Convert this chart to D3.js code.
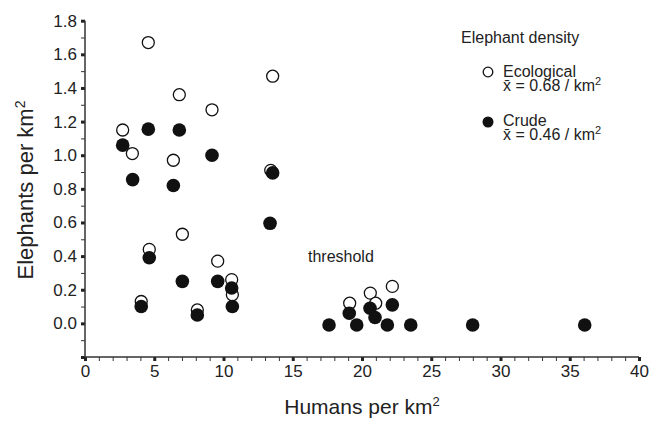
<!DOCTYPE html>
<html>
<head>
<meta charset="utf-8">
<script src="https://cdn.jsdelivr.net/npm/d3@7"></script>
<style>
  body { margin: 0; background: #fff; }
  text { font-family: "Liberation Sans", Arial, sans-serif; fill: #222; }
</style>
</head>
<body>
<script>
// Ecological density (open circles)
var humansEco = [4.57, 6.81, 9.17, 13.55, 2.72, 3.42, 6.38, 13.41, 7.03, 4.64, 9.58, 10.59, 10.64, 4.06, 8.11, 19.11, 20.6, 20.99, 22.19];
var elephantsEco = [1.67, 1.36, 1.27, 1.47, 1.15, 1.01, 0.97, 0.91, 0.53, 0.44, 0.37, 0.26, 0.17, 0.13, 0.08, 0.12, 0.18, 0.12, 0.22];

// Crude density (filled circles)
var humansCrude = [2.72, 4.57, 6.81, 9.17, 3.44, 6.38, 13.55, 13.36, 4.64, 7.03, 9.58, 10.59, 10.64, 4.06, 8.11, 17.62, 19.08, 19.62, 20.58, 20.94, 21.83, 22.19, 23.52, 27.99, 36.08];
var elephantsCrude = [1.06, 1.155, 1.15, 1.0, 0.855, 0.82, 0.895, 0.595, 0.39, 0.25, 0.25, 0.21, 0.10, 0.10, 0.05, -0.01, 0.06, -0.01, 0.09, 0.035, -0.01, 0.11, -0.01, -0.01, -0.01];

var xTicks = [0, 5, 10, 15, 20, 25, 30, 35, 40];
var yTicks = [0, 0.2, 0.4, 0.6, 0.8, 1.0, 1.2, 1.4, 1.6, 1.8];

let chart = function() {
    let w = 663;
    let h = 423;

    let svg = d3.select("body")
        .append("svg")
        .attr("width", w)
        .attr("height", h);

    let x = d3.scaleLinear().domain([0, 40]).range([85, 639]);
    let y = d3.scaleLinear().domain([-0.2, 1.8]).range([357, 20.7]);

    // minor ticks
    svg.append("g")
        .attr("transform", "translate(0,357)")
        .call(d3.axisBottom(x).tickValues(d3.range(0, 41, 1)).tickSize(4).tickFormat(""))
        .call(g => g.select(".domain").remove());
    svg.append("g")
        .attr("transform", "translate(85,0)")
        .call(d3.axisLeft(y).tickValues(d3.range(-2, 19, 1).map(d => d / 10)).tickSize(4).tickFormat(""))
        .call(g => g.select(".domain").remove());

    svg.selectAll("g line").attr("stroke", "#333");

    // major ticks and labels
    let xAxis = svg.append("g")
        .attr("transform", "translate(0,357)")
        .call(d3.axisBottom(x).tickValues(xTicks).tickSize(4).tickPadding(4).tickFormat(d3.format("d")));
    let yAxis = svg.append("g")
        .attr("transform", "translate(85,0)")
        .call(d3.axisLeft(y).tickValues([-0.2].concat(yTicks)).tickSize(4).tickPadding(4)
            .tickFormat(d => d < 0 ? "" : d3.format(".1f")(d)));

    [xAxis, yAxis].forEach(function(g) {
        g.select(".domain").attr("d", null).remove();
        g.selectAll("line").attr("stroke", "#222").attr("stroke-width", 3);
        g.selectAll("text")
            .attr("font-family", "Liberation Sans, Arial, sans-serif")
            .attr("font-size", "17px")
            .attr("fill", "#222");
    });

    // axis lines
    svg.append("line")
        .attr("x1", x(0)).attr("x2", x(40))
        .attr("y1", y(-0.2)).attr("y2", y(-0.2))
        .attr("stroke", "#333").attr("stroke-width", 1.5);
    svg.append("line")
        .attr("x1", x(0)).attr("x2", x(0))
        .attr("y1", y(-0.2)).attr("y2", y(1.8))
        .attr("stroke", "#333").attr("stroke-width", 1.5);

    // open circles first, filled on top
    svg.append("g")
        .selectAll("circle")
        .data(humansEco)
        .enter()
        .append("circle")
        .attr("cx", function(d) { return x(d); })
        .attr("cy", function(d, i) { return y(elephantsEco[i]); })
        .attr("r", 6)
        .attr("fill", "#fff")
        .attr("stroke", "#111")
        .attr("stroke-width", 1.3);

    svg.append("g")
        .selectAll("circle")
        .data(humansCrude)
        .enter()
        .append("circle")
        .attr("cx", function(d) { return x(d); })
        .attr("cy", function(d, i) { return y(elephantsCrude[i]); })
        .attr("r", 6.8)
        .attr("fill", "#111");

    svg.append("text")
        .attr("x", 308)
        .attr("y", 262)
        .attr("font-size", "16px")
        .text("threshold");

    // axis titles
    let xt = svg.append("text")
        .attr("x", 362)
        .attr("y", 414)
        .attr("text-anchor", "middle")
        .attr("font-size", "21px");
    xt.append("tspan").text("Humans per km");
    xt.append("tspan").attr("font-size", "13px").attr("dy", -8).text("2");

    let yt = svg.append("text")
        .attr("transform", "translate(33,190) rotate(-90)")
        .attr("text-anchor", "middle")
        .attr("font-size", "22px");
    yt.append("tspan").text("Elephants per km");
    yt.append("tspan").attr("font-size", "14px").attr("dy", -8).text("2");

    // legend
    svg.append("text")
        .attr("x", 461)
        .attr("y", 43)
        .attr("font-size", "16px")
        .text("Elephant density");

    svg.append("circle")
        .attr("cx", 488).attr("cy", 72).attr("r", 4.8)
        .attr("fill", "#fff").attr("stroke", "#111").attr("stroke-width", 1.3);
    svg.append("circle")
        .attr("cx", 488).attr("cy", 122).attr("r", 5.5)
        .attr("fill", "#111");

    let legendRows = [
        { y: 77, name: "Ecological", mean: "0.68" },
        { y: 126, name: "Crude", mean: "0.46" }
    ];
    legendRows.forEach(function(r) {
        svg.append("text")
            .attr("x", 503)
            .attr("y", r.y)
            .attr("font-size", "16px")
            .text(r.name);
        let t = svg.append("text")
            .attr("x", 503)
            .attr("y", r.y + 14)
            .attr("font-size", "16px");
        t.append("tspan").text("x\u0304 = " + r.mean + " / km");
        t.append("tspan").attr("font-size", "11px").attr("dy", -6).text("2");
    });
}

chart();
</script>
</body>
</html>
